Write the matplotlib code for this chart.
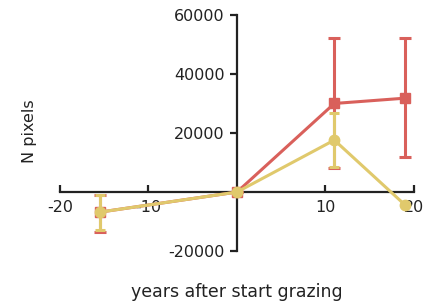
import numpy as np
import matplotlib
matplotlib.use('Agg')
import matplotlib.pyplot as plt

plt.rcParams['font.family'] = ['DejaVu Sans']
plt.rcParams['axes.unicode_minus'] = False

# dados
anos = [-15.5, 0, 11, 19]
vermelho = [-6800, 0, 30000, 31800]
verm_baixo = [-13500, 0, 8000, 11800]
verm_cima = [-1000, 0, 52200, 52200]

amarelo = [-6800, 0, 17600, -4400]
amar_baixo = [-13000, 0, 8500, -4400]
amar_cima = [-1000, 0, 26800, -4400]

x_ticks = [-20, -10, 10, 20]
y_ticks = [-20000, 20000, 40000, 60000]

cor_verm = '#d9605b'
cor_amar = '#e0c96c'

fig = plt.figure(figsize=(4.27, 3.04), dpi=100)
ax = fig.add_axes([0.1405, 0.174, 0.829, 0.777])


def barras(y, lo, hi):
    y = np.array(y)
    return [y - np.array(lo), np.array(hi) - y]


ax.errorbar(anos, vermelho, yerr=barras(vermelho, verm_baixo, verm_cima),
            color=cor_verm, marker='s', markersize=7.5, linewidth=2.2,
            elinewidth=2.2, capsize=4, capthick=2.2, zorder=3)
ax.errorbar(anos, amarelo, yerr=barras(amarelo, amar_baixo, amar_cima),
            color=cor_amar, marker='o', markersize=7.5, linewidth=2.2,
            elinewidth=2.2, capsize=3.5, capthick=2.2, zorder=4)

ax.set_xlim(-20, 20)
ax.set_ylim(-20000, 60000)
ax.spines['left'].set_position(('data', 0))
ax.spines['bottom'].set_position(('data', 0))
ax.spines['right'].set_visible(False)
ax.spines['top'].set_visible(False)
for s in ['left', 'bottom']:
    ax.spines[s].set_linewidth(1.6)
    ax.spines[s].set_color('#222222')

ax.set_xticks(x_ticks)
ax.set_yticks(y_ticks)
ax.tick_params(axis='x', direction='in', length=5, width=1.6, labelsize=11.5, pad=6, colors='#222222')
ax.tick_params(axis='y', direction='out', length=5, width=1.6, labelsize=11.5, pad=4, colors='#222222')

fig.text(0.555, 0.04, 'years after start grazing', ha='center', va='center', fontsize=12.5, color='#222222')
fig.text(0.07, 0.57, 'N pixels', ha='center', va='center', rotation=90, fontsize=11.5, color='#222222')

plt.savefig('out.png', dpi=100)
